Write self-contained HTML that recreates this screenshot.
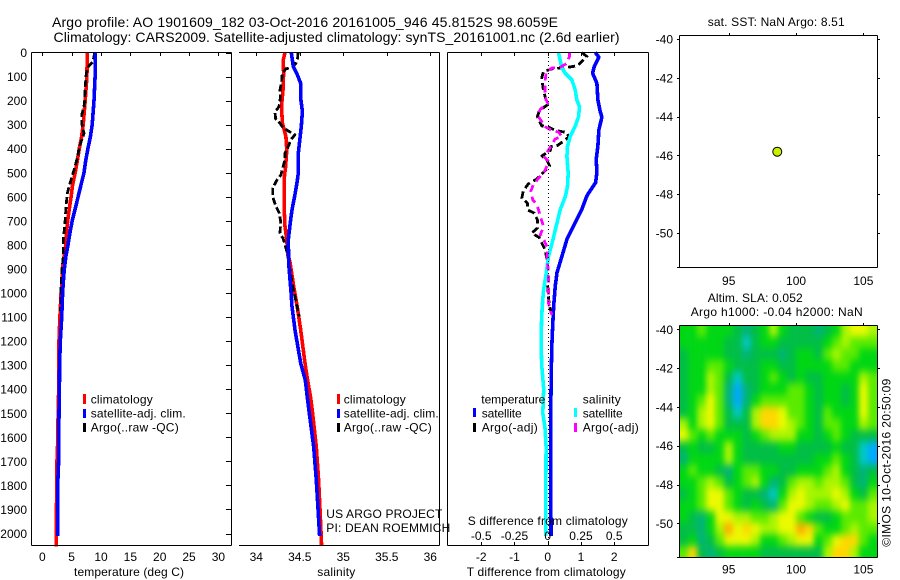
<!DOCTYPE html>
<html lang="en">
<head>
<meta charset="utf-8">
<title>Argo profile</title>
<style>
html,body{margin:0;padding:0;background:#fff;}
svg{display:block;}
text{font-family:"Liberation Sans",sans-serif;font-size:12px;fill:#000;}
.ttl{font-size:14px;}
</style>
</head>
<body>
<svg id="chart" width="900" height="580" viewBox="0 0 900 580" xmlns="http://www.w3.org/2000/svg">
  <defs>
    <clipPath id="heat-clip"><rect x="680" y="326" width="198" height="231"/></clipPath>
    <filter id="heat-blur" filterUnits="userSpaceOnUse" x="650" y="300" width="250" height="280" color-interpolation-filters="sRGB"><feGaussianBlur stdDeviation="3 4"/></filter>
  </defs>
  <g id="marks"></g>

  <text class="ttl" x="52" y="27" textLength="506">Argo profile: AO 1901609_182 03-Oct-2016 20161005_946 45.8152S 98.6059E</text>
  <text class="ttl" x="53.5" y="42" textLength="566">Climatology: CARS2009. Satellite-adjusted climatology: synTS_20161001.nc (2.6d earlier)</text>
  <text x="707.7" y="26" textLength="137">sat. SST: NaN Argo: 8.51</text>
  <text x="707.7" y="302" textLength="95">Altim. SLA: 0.052</text>
  <text x="690.7" y="316" textLength="172">Argo h1000: -0.04 h2000: NaN</text>

  <text x="74" y="576" textLength="110">temperature (deg C)</text>
  <text x="317.3" y="576" textLength="38">salinity</text>
  <text x="466.7" y="576" textLength="159">T difference from climatology</text>
  <text x="467.7" y="525" textLength="160">S difference from climatology</text>

  <g>
    <rect x="83" y="394" width="3" height="10" fill="#f00"/>
    <rect x="83" y="409" width="3" height="9" fill="#00f"/>
    <rect x="83" y="423" width="3" height="9" fill="#000"/>
    <text x="90.7" y="403.5" textLength="62">climatology</text>
    <text x="90.7" y="417.5" textLength="95">satellite-adj. clim.</text>
    <text x="90.7" y="431.5" textLength="88">Argo(..raw -QC)</text>
  </g>
  <g>
    <rect x="337" y="394" width="3" height="10" fill="#f00"/>
    <rect x="337" y="409" width="3" height="9" fill="#00f"/>
    <rect x="337" y="423" width="3" height="9" fill="#000"/>
    <text x="343.7" y="403.5" textLength="62">climatology</text>
    <text x="343.7" y="417.5" textLength="95">satellite-adj. clim.</text>
    <text x="343.7" y="431.5" textLength="88">Argo(..raw -QC)</text>
    <text x="326.3" y="518" textLength="116">US ARGO PROJECT</text>
    <text x="326.3" y="532" textLength="124">PI: DEAN ROEMMICH</text>
  </g>
  <g>
    <text x="481.3" y="403.5" textLength="64">temperature</text>
    <text x="582.7" y="403.5" textLength="38">salinity</text>
    <rect x="473" y="408" width="3" height="9" fill="#00f"/>
    <rect x="473" y="423" width="3" height="9" fill="#000"/>
    <rect x="574" y="408" width="3" height="9" fill="#0ff"/>
    <rect x="574" y="423" width="3" height="9" fill="#f0f"/>
    <text x="481.7" y="417.5" textLength="40">satellite</text>
    <text x="481.7" y="431.5" textLength="56">Argo(-adj)</text>
    <text x="582.7" y="417.5" textLength="40">satellite</text>
    <text x="582.7" y="431.5" textLength="56">Argo(-adj)</text>
  </g>
  <text transform="translate(890.5,546.7) rotate(-90)" x="0" y="0" textLength="168">©IMOS 10-Oct-2016 20:50:09</text>
</svg>
<script>
// ---- Temperature panel data
const tempDepthTicks = [0,100,200,300,400,500,600,700,800,900,1000,1100,1200,1300,1400,1500,1600,1700,1800,1900,2000];
const tempTicks = [0,5,10,15,20,25,30];
const climTDepth = [0,100,200,300,350,400,450,500,550,600,650,700,750,800,850,900,950,1000,1100,1200,1300,1400,1500,1600,1700,1800,1900,2000,2055];
const climT = [7.67,7.6,7.3,6.97,6.7,6.3,5.97,5.6,5.17,4.9,4.6,4.33,4.1,4.0,3.7,3.4,3.35,3.2,3.0,2.85,2.8,2.8,2.7,2.65,2.5,2.5,2.4,2.38,2.38];
const satTDepth = [0,100,200,250,300,350,400,450,500,550,600,650,700,750,800,850,900,950,1000,1100,1200,1300,1400,1500,1700,1800,2010];
const satT = [9.0,9.0,8.8,8.65,8.5,8.2,7.76,7.4,7.1,6.6,6.1,5.6,5.1,4.7,4.37,4.0,3.75,3.6,3.45,3.3,3.07,2.95,2.92,2.85,2.78,2.62,2.62];
const argoTDepth = [0,40,59,86,156,197,225,260,295,336,364,392,433,489,544,586,641,710,780,849,904,973,1040,1075];
const argoT = [8.95,8.6,7.84,7.5,7.27,7.22,7.1,6.71,6.71,7.1,6.71,6.31,6.03,5.4,4.72,4.26,4.04,3.87,3.58,3.58,3.36,3.19,3.15,3.1];

// ---- Salinity panel data
const salTickValues = [34,34.5,35,35.5,36];
const salTickLabels = ['34','34.5','35','35.5','36'];
const climSDepth = [0,30,86,156,225,294,349,405,474,529,640,723,779,834,877,973,1056,1154,1292,1362,1437,1500,1640,1778,1917,2051];
const climS = [34.33,34.31,34.314,34.307,34.29,34.30,34.34,34.35,34.337,34.32,34.32,34.33,34.35,34.36,34.39,34.43,34.47,34.51,34.56,34.59,34.625,34.647,34.69,34.716,34.735,34.751];
const satSDepth = [0,58,86,128,197,245,308,363,419,502,543,599,654,710,779,877,1001,1056,1154,1292,1362,1437,1500,1640,1778,1917,2010];
const satS = [34.402,34.425,34.464,34.51,34.513,34.53,34.517,34.50,34.483,34.483,34.467,34.44,34.41,34.39,34.368,34.372,34.40,34.41,34.445,34.51,34.563,34.587,34.609,34.66,34.69,34.713,34.728];
const argoSDepth = [0,24,47,61,68,86,121,155,190,225,248,276,294,310,324,342,363,391,419,446,481,509,532,564,599,636,668,703,751,775,834,904,973,1028,1098];
const argoS = [34.479,34.475,34.452,34.414,34.341,34.299,34.291,34.272,34.276,34.261,34.215,34.222,34.272,34.303,34.356,34.444,34.398,34.368,34.33,34.33,34.303,34.284,34.234,34.188,34.188,34.222,34.264,34.28,34.272,34.31,34.356,34.387,34.418,34.452,34.494];

// ---- Difference panel data
const diffTTicks = [-2,-1,0,1,2];
const diffSTicks = [-0.5,-0.25,0,0.25,0.5];
const satDTDepth = [0,19,58,86,128,197,245,269,321,388,444,499,541,596,651,707,776,846,915,970,1053,1109,1200,1300,1500,2010];
const satDT = [1.43,1.54,1.40,1.35,1.48,1.51,1.58,1.63,1.54,1.51,1.46,1.48,1.44,1.18,1.03,0.83,0.58,0.43,0.28,0.23,0.18,0.16,0.13,0.11,0.09,0.1];
const argoDTDepth = [0,17,55,61,68,79,107,155,183,218,241,266,305,308,324,333,352,370,388,391,407,430,446,471,491,527,546,574,606,626,654,668,696,730,751,769,786,820,855,959,1028,1056,1091];
const argoDT = [1.03,1.18,0.90,0.63,0.13,-0.13,-0.18,-0.13,-0.08,-0.01,-0.25,-0.31,-0.18,-0.01,0.23,0.58,0.63,0.46,0.28,0.10,0.08,-0.17,-0.03,0.06,-0.08,-0.33,-0.58,-0.73,-0.78,-0.61,-0.61,-0.40,-0.31,-0.31,-0.48,-0.26,-0.20,-0.08,-0.03,-0.01,0.03,0.06,0.12];
const satDSDepth = [0,65,86,114,155,197,225,266,307,349,391,432,502,557,599,654,710,779,848,918,987,1056,1112,1200,1300,1400,1500,1560,1640,2010];
const satDS = [0.0815,0.1065,0.1316,0.182,0.207,0.219,0.239,0.232,0.207,0.169,0.149,0.144,0.154,0.149,0.132,0.094,0.069,0.039,0.006,-0.011,-0.031,-0.041,-0.046,-0.05,-0.045,-0.03,-0.037,-0.02,-0.012,-0.016];
const argoDSDepth = [0,17,47,61,65,79,128,183,211,236,263,287,305,324,331,349,360,394,435,453,488,509,546,578,613,633,654,693,723,758,782,814,855,911,1042,1091];
const argoDS = [0.164,0.164,0.139,0.094,0.031,-0.011,-0.021,-0.021,-0.001,-0.056,-0.076,-0.044,-0.031,0.031,0.081,0.107,0.056,0.019,-0.026,0.009,-0.019,-0.044,-0.107,-0.127,-0.112,-0.081,-0.069,-0.049,-0.031,-0.056,-0.026,-0.001,-0.006,0.006,0.006,0.031];

// ---- Map data
const mapLonTicks = [95,100,105];
const mapLatTicks = [-40,-42,-44,-46,-48,-50];
const argoLon = [98.6059];
const argoLat = [-45.8152];
const lonCenters = [91.66,92.33,93.00,93.67,94.33,95.00,95.67,96.34,97.00,97.67,98.34,99.00,99.67,100.34,101.00,101.67,102.34,103.00,103.67,104.34,105.00,105.67];
const latCenters = [-40.09,-40.69,-41.29,-41.89,-42.49,-43.09,-43.69,-44.29,-44.89,-45.49,-46.09,-46.69,-47.29,-47.89,-48.49,-49.09,-49.69,-50.29,-50.89,-51.49];
const slaLevels = [
[4,4,5,4,4,4,3,2,3,4,6,4,3,3,3,2,3,4,6,7,7,6],
[4,4,4,4,4,3,3,1,3,4,4,3,3,3,3,3,4,5,6,5,5,5],
[3,4,4,4,4,3,3,2,3,3,3,2,3,4,4,3,5,6,5,5,4,4],
[3,4,4,5,5,4,3,3,3,4,4,3,3,4,4,4,4,5,5,4,4,4],
[3,4,4,6,5,3,1,3,3,4,5,4,3,4,3,3,4,4,4,4,6,5],
[3,4,4,6,5,2,0,2,3,4,4,4,5,5,4,3,4,4,3,4,7,5],
[3,4,5,7,5,2,0,2,4,5,5,5,5,5,4,3,4,4,3,4,7,5],
[3,4,6,7,5,3,1,3,6,8,8,7,5,5,4,3,5,4,4,4,7,5],
[6,4,6,7,5,3,3,3,6,8,8,7,6,5,4,3,5,5,4,4,6,5],
[7,5,4,5,4,4,4,3,4,5,6,6,6,4,4,3,4,5,4,3,3,3],
[3,4,3,3,4,6,4,3,3,3,3,4,4,3,3,3,3,4,3,3,1,0],
[2,4,4,4,4,6,4,3,3,3,3,3,3,3,3,4,4,5,4,3,1,0],
[4,5,4,4,3,2,4,5,5,4,4,3,3,4,4,4,5,6,4,3,2,3],
[4,4,5,6,5,3,4,5,6,4,2,3,5,6,6,5,6,6,5,3,2,4],
[3,4,5,7,7,5,4,3,3,2,1,4,6,7,6,6,6,7,6,4,3,5],
[4,4,5,7,7,5,4,3,4,3,2,5,7,7,6,5,5,6,7,5,5,6],
[4,3,2,4,7,7,6,6,5,5,6,7,7,5,4,3,3,4,5,5,5,6],
[3,3,2,4,6,9,7,8,7,6,6,7,7,9,8,5,4,4,5,6,5,5],
[3,4,2,3,5,7,7,7,6,4,4,5,6,7,7,4,5,7,8,8,5,4],
[5,8,3,2,3,4,4,4,4,3,3,3,3,3,3,3,6,8,8,6,4,4]
];
const slaColors = ['#00aaff','#00c8c8','#00b478','#00be46','#00d714','#5aeb00','#aaf500','#ebfa00','#ffd700','#ffaa00'];

// ---- Axis functions
const yDepth = d => 52.5 + 0.2405 * d;
const xTemp = t => 42.3 + 5.87 * t;
const xSal = s => 256.3 + 87 * (s - 34);
const xDiffT = d => 547.7 + 33.25 * d;
const xDiffS = d => 547.7 + 133 * d;
const xLon = lon => 728.7 + 13.47 * (lon - 95);
const yLatTop = lat => 39 + 19.38 * (-40 - lat);
const yLatBottom = lat => 329.3 + 19.4 * (-40 - lat);

const NS = 'http://www.w3.org/2000/svg';
const root = document.getElementById('marks');
function make(tag, attrs, parent) {
  const el = document.createElementNS(NS, tag);
  for (const k in attrs) el.setAttribute(k, attrs[k]);
  (parent || root).appendChild(el);
  return el;
}
function drawProfile(values, depths, xFn, colour, dash, width, name) {
  const pts = values.map((v, i) => xFn(v).toFixed(1) + ',' + yDepth(depths[i]).toFixed(1)).join(' ');
  const el = make('polyline', {points: pts, fill: 'none', stroke: colour, 'stroke-width': width, 'stroke-dasharray': dash, 'shape-rendering': 'crispEdges', 'stroke-linejoin': 'round'});
  
  
}
function drawLine(x1, y1, x2, y2, name) {
  const el = make('line', {x1: x1, y1: y1, x2: x2, y2: y2, stroke: '#000', 'stroke-width': 1, 'shape-rendering': 'crispEdges'});
  
  
}
function drawLabel(str, x, y, anchor, name) {
  const el = make('text', {x: x, y: y, 'text-anchor': anchor});
  el.textContent = str;
  
  
}

// ---- Profile series
drawProfile(climT, climTDepth, xTemp, '#f00', 'none', 3.6, 'temperature-climatology-line');
drawProfile(argoT, argoTDepth, xTemp, '#000', '7 3', 2.8, 'temperature-argo-line');
drawProfile(satT, satTDepth, xTemp, '#00f', 'none', 3.6, 'temperature-satellite-line');

drawProfile(climS, climSDepth, xSal, '#f00', 'none', 3.6, 'salinity-climatology-line');
drawProfile(argoS, argoSDepth, xSal, '#000', '7 3', 2.8, 'salinity-argo-line');
drawProfile(satS, satSDepth, xSal, '#00f', 'none', 3.6, 'salinity-satellite-line');

drawProfile(satDT, satDTDepth, xDiffT, '#00f', 'none', 3.6, 't-difference-satellite-line');
drawProfile(argoDT, argoDTDepth, xDiffT, '#000', '7 4', 2.8, 't-difference-argo-line');
drawProfile(satDS, satDSDepth, xDiffS, '#0ff', 'none', 3.6, 's-difference-satellite-line');
drawProfile(argoDS, argoDSDepth, xDiffS, '#f0f', '7 5', 2.8, 's-difference-argo-line');
const zeroLine = make('line', {x1: 548.5, y1: 53, x2: 548.5, y2: 545, stroke: '#000', 'stroke-width': 1, 'stroke-dasharray': '1 3', 'shape-rendering': 'crispEdges'});



// ---- Panel frames
drawLine(31.5, 52.5, 231.5, 52.5, 'temperature-panel-top');
drawLine(31.5, 545.5, 231.5, 545.5, 'temperature-panel-bottom');
drawLine(31.5, 52.5, 31.5, 545.5, 'temperature-panel-left');
drawLine(231.5, 52.5, 231.5, 545.5, 'temperature-panel-right');
drawLine(239, 52.5, 439.5, 52.5, 'salinity-panel-top');
drawLine(239, 545.5, 439.5, 545.5, 'salinity-panel-bottom');
drawLine(439.5, 52.5, 439.5, 545.5, 'salinity-panel-right');
drawLine(447.5, 52.5, 648.5, 52.5, 'difference-panel-top');
drawLine(447.5, 545.5, 648.5, 545.5, 'difference-panel-bottom');
drawLine(447.5, 52.5, 447.5, 545.5, 'difference-panel-left');
drawLine(648.5, 52.5, 648.5, 545.5, 'difference-panel-right');

// ---- Profile ticks
tempDepthTicks.forEach(d => {
  const y = Math.round(yDepth(d)) + 0.5;
  drawLine(226, y, 231, y, 'depth-tick');
  drawLabel(String(d), 27, yDepth(d) + 4.5, 'end', 'depth-tick-label');
});
tempTicks.forEach(t => {
  const x = Math.round(xTemp(t)) + 0.5;
  drawLine(x, 53, x, 56, 'temperature-tick');
  drawLabel(String(t), xTemp(t), 561, 'middle', 'temperature-tick-label');
});
salTickValues.forEach((s, i) => {
  const x = Math.round(xSal(s)) + 0.5;
  drawLine(x, 53, x, 56, 'salinity-tick');
  drawLabel(salTickLabels[i], xSal(s), 561, 'middle', 'salinity-tick-label');
});
diffTTicks.forEach(t => {
  const x = Math.round(xDiffT(t)) + 0.5;
  drawLine(x, 53, x, 56, 't-difference-tick-top');
  drawLine(x, 542, x, 545, 't-difference-tick-bottom');
  drawLabel(String(t), xDiffT(t), 561, 'middle', 't-difference-tick-label');
});
diffSTicks.forEach(s => {
  drawLabel(String(s), xDiffS(s), 540, 'middle', 's-difference-tick-label');
});

// ---- SLA heatmap
const heatGroup = make('g', {'clip-path': 'url(#heat-clip)'});


const heatInner = make('g', {filter: 'url(#heat-blur)'}, heatGroup);


slaLevels.forEach((row, j) => {
  row.forEach((level, i) => {
    const halfW = 4.6, halfH = 6;
    const x0 = xLon(lonCenters[i]) - halfW - (i === 0 ? 16 : 0);
    const x1 = xLon(lonCenters[i]) + halfW + (i === row.length - 1 ? 16 : 0);
    const y0 = yLatBottom(latCenters[j]) - halfH - (j === 0 ? 16 : 0);
    const y1 = yLatBottom(latCenters[j]) + halfH + (j === slaLevels.length - 1 ? 16 : 0);
    const idx = Math.max(0, Math.min(slaColors.length - 1, Math.round(level)));
    const cell = make('rect', {x: x0, y: y0, width: x1 - x0, height: y1 - y0, fill: slaColors[idx]}, heatInner);
    
    
  });
});

// ---- Maps: frames, ticks, labels
function drawMapAxes(yLat, top, bottom, labelBase, prefix) {
  drawLine(679.5, top, 877.5, top, prefix + '-map-top');
  drawLine(679.5, bottom, 877.5, bottom, prefix + '-map-bottom');
  drawLine(679.5, top, 679.5, bottom, prefix + '-map-left');
  drawLine(877.5, top, 877.5, bottom, prefix + '-map-right');
  drawLine(677, bottom, 679.5, bottom, prefix + '-map-corner-tick');
  mapLatTicks.forEach(lat => {
    const y = Math.round(yLat(lat)) + 0.5;
    drawLine(677, y, 679.5, y, prefix + '-map-lat-tick-left');
    drawLine(877.5, y, 880, y, prefix + '-map-lat-tick-right');
    drawLabel(String(lat), 673, yLat(lat) + 4.5, 'end', prefix + '-map-lat-label');
  });
  mapLonTicks.forEach(lon => {
    const x = Math.round(xLon(lon)) + 0.5;
    drawLine(x, top - 2.5, x, top, prefix + '-map-lon-tick');
    drawLabel(String(lon), xLon(lon), labelBase, 'middle', prefix + '-map-lon-label');
  });
}
drawMapAxes(yLatTop, 35.5, 267.5, 285, 'sst');
drawMapAxes(yLatBottom, 325.5, 557.5, 573.5, 'sla');

argoLon.forEach((lon, i) => {
  const dot = make('circle', {cx: xLon(lon), cy: yLatTop(argoLat[i]), r: 4.5, fill: '#c8f000', stroke: '#000', 'stroke-width': 1});
  
  
});
</script>
</body>
</html>
